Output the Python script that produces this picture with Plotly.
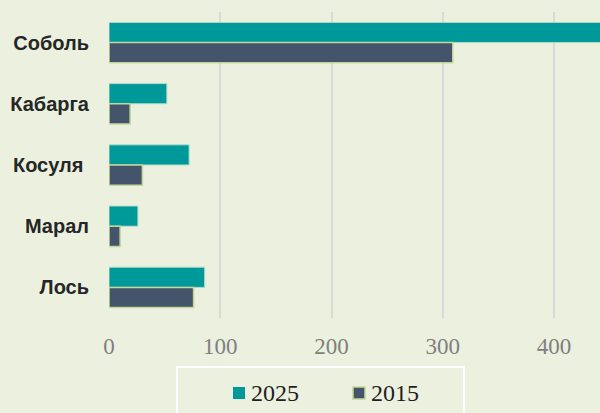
import plotly.graph_objects as go

categories = ["Соболь", "Кабарга", "Косуля\u00a0", "Марал", "Лось"]
series_names = ["2025", "2015"]
values_2025 = [480, 52, 72, 26, 86]
values_2015 = [309, 19, 30, 10, 76]
x_ticks = [0, 100, 200, 300, 400]

teal = "#009999"
slate = "#44546a"
bg = "#ebf1de"

W, H = 600, 413
ML, MR, MT, MB = 109, 0, 12, 95
PW, PH = W - ML - MR, H - MT - MB


def px_x(x):
    return (x - ML) / PW


def px_y(y):
    return (H - MB - y) / PH


fig = go.Figure()
fig.add_trace(go.Bar(
    y=categories, x=values_2025, name=series_names[0], orientation="h",
    marker=dict(color=teal, line=dict(color="#b5dcc8", width=1)),
    showlegend=False,
))
fig.add_trace(go.Bar(
    y=categories, x=values_2015, name=series_names[1], orientation="h",
    marker=dict(color=slate, line=dict(color="#c4d79b", width=1.5)),
    showlegend=False,
))

# manual legend (box + swatches + labels)
shapes = [
    dict(type="rect", xref="paper", yref="paper",
         x0=px_x(177), x1=px_x(464), y0=px_y(367), y1=px_y(430),
         line=dict(color="white", width=2), fillcolor="rgba(0,0,0,0)"),
    dict(type="rect", xref="paper", yref="paper",
         x0=px_x(233), x1=px_x(245), y0=px_y(387), y1=px_y(399),
         line=dict(width=0), fillcolor=teal),
    dict(type="rect", xref="paper", yref="paper",
         x0=px_x(353), x1=px_x(365), y0=px_y(387), y1=px_y(399),
         line=dict(color="#c4d79b", width=1.5), fillcolor=slate),
]
annotations = [
    dict(text=series_names[0], xref="paper", yref="paper",
         x=px_x(249), y=px_y(393), xanchor="left", yanchor="middle",
         showarrow=False, font=dict(family="Liberation Serif", size=24, color="#1f1f1f")),
    dict(text=series_names[1], xref="paper", yref="paper",
         x=px_x(369), y=px_y(393), xanchor="left", yanchor="middle",
         showarrow=False, font=dict(family="Liberation Serif", size=24, color="#1f1f1f")),
]

fig.update_layout(
    width=W, height=H,
    margin=dict(l=ML, r=MR, t=MT, b=MB, pad=0),
    paper_bgcolor=bg, plot_bgcolor=bg,
    barmode="group", bargap=0.34, bargroupgap=0,
    shapes=shapes, annotations=annotations,
    xaxis=dict(
        range=[0, 441.3], tickvals=x_ticks, ticktext=[str(v) for v in x_ticks],
        showgrid=True, gridcolor="#d9d9d9", gridwidth=2,
        zeroline=False, showline=False, ticks="", automargin=False,
        tickfont=dict(family="Liberation Serif", size=23, color="#7f7f7f"),
        ticklabelstandoff=12,
    ),
    yaxis=dict(
        autorange="reversed", showgrid=False, zeroline=False, showline=False, ticks="",
        automargin=False,
        tickfont=dict(family="Liberation Sans", size=20, color="#262626", weight="bold"),
        ticklabelstandoff=19,
    ),
)

fig.write_html("out.html")
